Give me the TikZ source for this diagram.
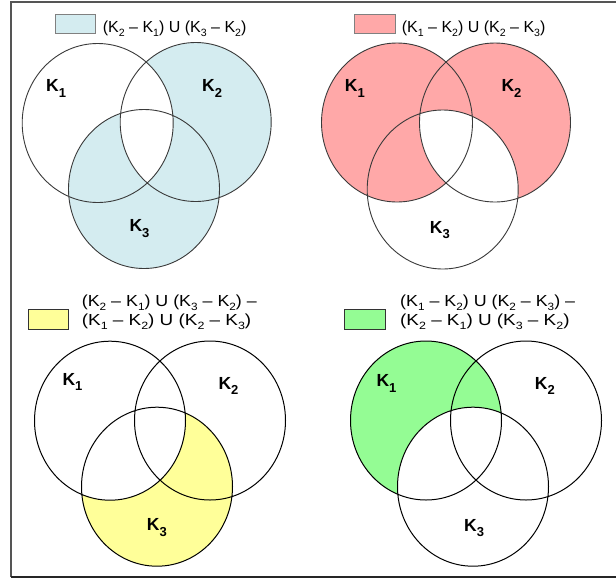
\documentclass[tikz,border=0pt]{standalone}
\usepackage{graphicx}
\usepackage{fontspec}
\setmainfont{Liberation Sans}
\newcommand\ksub[1]{\raisebox{-0.26em}{\fontsize{0.66em}{1em}\selectfont #1}}
\newcommand\kbsub[1]{\raisebox{-5.5pt}{\fontsize{13}{13}\selectfont\bfseries #1}}
\newcommand\widetxt[1]{\scalebox{1.18}[1]{#1}}
\newcommand\widetxtA[1]{\scalebox{1.115}[1]{#1}}
\definecolor{bfill}{HTML}{D4ECF0}
\definecolor{rfill}{HTML}{FFA8A8}
\definecolor{yfill}{HTML}{FFFF99}
\definecolor{gfill}{HTML}{94FC94}
\definecolor{lineA}{HTML}{3A3A3A}
\definecolor{frameC}{HTML}{555555}
\begin{document}
\begin{tikzpicture}[x=1pt,y=-1pt,
  er/.style={x radius=75.5pt,y radius=79.5pt},
  legtop/.style={anchor=base west,inner sep=0pt,font=\fontsize{16}{18}\selectfont},
  legbot/.style={anchor=base west,inner sep=0pt,font=\fontsize{16}{18}\selectfont},
  klabel/.style={anchor=base west,inner sep=0pt,font=\fontsize{17.5}{19}\selectfont\bfseries},
  ringA/.style={draw=lineA,line width=0.9pt},
  ringB/.style={draw=black,line width=1pt},
  boxA/.style={draw=gray,line width=0.9pt},
  boxB/.style={draw=black!80,line width=1pt}]
\useasboundingbox (0,0) rectangle (616,579);
\fill[white] (0,0) rectangle (616,579);
% frame
\draw[frameC,line width=2pt] (616,2) -- (11,2) -- (11,577);
\draw[black!85,line width=2pt] (11,577) -- (616,577);
% centres
\coordinate (a1) at (97.7,123);  \coordinate (a2) at (195.7,122);  \coordinate (a3) at (144,189);
\coordinate (b1) at (397,122.5); \coordinate (b2) at (495,122.5);  \coordinate (b3) at (442.7,189.5);
\coordinate (c1) at (110,420.7); \coordinate (c2) at (210,420.5);  \coordinate (c3) at (157,486.7);
\coordinate (d1) at (426,420.5); \coordinate (d2) at (526,420.5);  \coordinate (d3) at (473,486.7);
% panel 1 fill: (K2 u K3) - (K1 n K2)
\fill[bfill] (a2) ellipse[er] (a3) ellipse[er];
\begin{scope}\clip (a1) ellipse[er]; \fill[white] (a2) ellipse[er]; \end{scope}
\draw[ringA] (a1) ellipse[er] (a2) ellipse[er] (a3) ellipse[er];
% panel 2 fill: (K1 u K2) - (K2 n K3)
\fill[rfill] (b1) ellipse[er] (b2) ellipse[er];
\begin{scope}\clip (b2) ellipse[er]; \fill[white] (b3) ellipse[er]; \end{scope}
\draw[ringA] (b1) ellipse[er] (b2) ellipse[er] (b3) ellipse[er];
% panel 3 fill: K3 - K1
\fill[yfill] (c3) ellipse[er];
\fill[white] (c1) ellipse[er];
\draw[ringB] (c1) ellipse[er] (c2) ellipse[er] (c3) ellipse[er];
% panel 4 fill: K1 - K3
\fill[gfill] (d1) ellipse[er];
\fill[white] (d3) ellipse[er];
\draw[ringB] (d1) ellipse[er] (d2) ellipse[er] (d3) ellipse[er];
% legend boxes
\draw[boxA,fill=bfill] (55,14) rectangle (95,33);
\draw[boxA,fill=rfill] (354,14) rectangle (395,33);
\draw[boxB,fill=yfill] (28,309) rectangle (68,329);
\draw[boxB,fill=gfill] (344.7,309) rectangle (385.3,329);
% legend texts
\node[legtop] (t1) at (102.7,32) {(K\ksub{2} – K\ksub{1}) U (K\ksub{3} – K\ksub{2})};
\node[legtop] (t2) at (401.7,32) {(K\ksub{1} – K\ksub{2}) U (K\ksub{2} – K\ksub{3})};
\node[legbot] (t3a) at (81.7,306) {\widetxtA{(K\ksub{2} – K\ksub{1}) U (K\ksub{3} – K\ksub{2}) –}};
\node[legbot] (t3b) at (81.7,325) {\widetxt{(K\ksub{1} – K\ksub{2}) U (K\ksub{2} – K\ksub{3})}};
\node[legbot] (t4a) at (400,306) {\widetxtA{(K\ksub{1} – K\ksub{2}) U (K\ksub{2} – K\ksub{3}) –}};
\node[legbot] (t4b) at (400,325) {\widetxt{(K\ksub{2} – K\ksub{1}) U (K\ksub{3} – K\ksub{2})}};
% circle labels
\node[klabel] (la1) at (46,91.7) {K\kbsub{1}};
\node[klabel] (la2) at (202,91.7) {K\kbsub{2}};
\node[klabel] (la3) at (129.3,231.7) {K\kbsub{3}};
\node[klabel] (lb1) at (344.7,91.7) {K\kbsub{1}};
\node[klabel] (lb2) at (501.3,91.7) {K\kbsub{2}};
\node[klabel] (lb3) at (429.7,233) {K\kbsub{3}};
\node[klabel] (lc1) at (62.3,385) {K\kbsub{1}};
\node[klabel] (lc2) at (218.3,389) {K\kbsub{2}};
\node[klabel] (lc3) at (146.7,530.7) {K\kbsub{3}};
\node[klabel] (ld1) at (376.3,386.7) {K\kbsub{1}};
\node[klabel] (ld2) at (534.7,389) {K\kbsub{2}};
\node[klabel] (ld3) at (464,531) {K\kbsub{3}};
\end{tikzpicture}
\end{document}
